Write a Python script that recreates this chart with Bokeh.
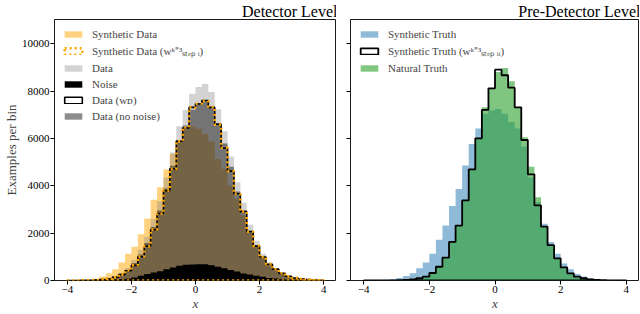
from bokeh.plotting import figure
from bokeh.layouts import row
from bokeh.models import Legend, LegendItem, FixedTicker, Range1d
from bokeh.embed import file_html
from bokeh.resources import INLINE

# ---------------- data ----------------
bin_lo = [round(-4.0 + 0.2 * i, 1) for i in range(40)]
bin_hi = [round(-3.8 + 0.2 * i, 1) for i in range(40)]

synthetic_data = [5, 10, 20, 40, 75, 165, 302, 480, 758, 1130, 1420, 1958, 2620, 3408, 3933,
                  4690, 5350, 5900, 6376, 6513, 6403, 6182, 5864, 5134, 4720, 4000, 3450, 2750,
                  2050, 1450, 1000, 700, 480, 310, 190, 110, 65, 35, 18, 8]
synthetic_weighted = [1, 2, 5, 10, 18, 36, 68, 140, 250, 420, 650, 1010, 1440, 2150, 2820,
                      3800, 4710, 5880, 6460, 7300, 7460, 7580, 7320, 6580, 5600, 4610, 3650,
                      2910, 2060, 1460, 990, 690, 475, 305, 175, 110, 62, 34, 19, 10]
data_full = [3, 6, 12, 22, 40, 70, 120, 200, 330, 530, 870, 1300, 1850, 2600, 3350, 4350,
             5400, 6510, 7200, 7890, 8170, 8300, 7960, 7230, 6300, 5240, 4145, 3280, 2350,
             1680, 1130, 760, 520, 330, 200, 122, 70, 40, 20, 10]
noise = [2, 3, 5, 8, 12, 18, 25, 40, 60, 75, 130, 200, 270, 340, 390, 470, 550, 620, 660, 680,
         690, 690, 640, 580, 520, 440, 385, 300, 250, 200, 160, 110, 80, 55, 35, 22, 14, 8, 5, 3]
data_weighted = [1, 2, 5, 9, 18, 35, 66, 137, 248, 414, 640, 1000, 1450, 2140, 2830, 3790,
                 4720, 5890, 6440, 7310, 7450, 7600, 7310, 6600, 5590, 4620, 3660, 2900, 2070,
                 1450, 994, 687, 480, 302, 178, 108, 60, 35, 20, 10]
data_no_noise = [1, 3, 7, 14, 28, 52, 95, 160, 270, 455, 740, 1100, 1580, 2260, 2960, 3880,
                 4850, 5890, 6540, 7210, 7480, 7610, 7320, 6650, 5780, 4800, 3760, 2980, 2100,
                 1480, 970, 650, 440, 275, 165, 100, 56, 32, 15, 7]

synthetic_truth = [3, 6, 12, 30, 60, 108, 192, 302, 522, 758, 1130, 1724, 2319, 3147, 3863,
                   4857, 5768, 6417, 7039, 7176, 7246, 7039, 6694, 6417, 5657, 4348, 3300, 2400,
                   1627, 1130, 716, 480, 274, 164, 82, 40, 20, 10, 5, 2]
synthetic_truth_weighted = [0, 1, 2, 3, 6, 12, 25, 50, 96, 165, 316, 580, 966, 1627, 2319,
                            3380, 4690, 6003, 7204, 8115, 8903, 8667, 8141, 7313, 5933, 4484,
                            3172, 2278, 1491, 937, 551, 302, 165, 96, 50, 25, 12, 6, 3, 1]
natural_truth = [0, 1, 2, 3, 6, 12, 25, 50, 96, 165, 316, 580, 966, 1627, 2319, 3380, 4690,
                 6003, 7313, 8115, 8800, 8970, 8418, 7313, 6045, 4802, 3520, 2300, 1500, 940,
                 560, 310, 170, 96, 50, 25, 12, 6, 3, 1]

x_ticks = [-4, -2, 0, 2, 4]
y_ticks = [0, 2000, 4000, 6000, 8000, 10000]
X_MIN, X_MAX, Y_MAX = -4.4, 4.4, 11020

SERIF = "Liberation Serif"


def step_outline(values):
    xs, ys = [bin_lo[0]], [0]
    for lo, hi, v in zip(bin_lo, bin_hi, values):
        xs += [lo, hi]
        ys += [v, v]
    xs.append(bin_hi[-1])
    ys.append(0)
    return xs, ys


def make_fig(title, show_ylabels, border_left, frame_w, border_right):
    p = figure(frame_width=frame_w, frame_height=261, output_backend="svg",
               toolbar_location=None, x_range=Range1d(X_MIN, X_MAX),
               y_range=Range1d(0, Y_MAX), min_border_left=border_left,
               min_border_right=border_right, min_border_top=18, min_border_bottom=0)
    p.title.text = title
    p.title.align = "right"
    p.title.text_font = SERIF
    p.title.text_font_size = "16px"
    p.title.text_font_style = "normal"
    p.title.text_color = "black"
    p.title.standoff = 0
    p.title.offset = -1
    p.grid.visible = False
    p.outline_line_color = "black"
    p.outline_line_width = 0.9
    for ax in (p.xaxis, p.yaxis):
        ax.axis_line_color = None
        ax.major_tick_out = 4
        ax.major_tick_in = 0
        ax.minor_tick_line_color = None
        ax.major_tick_line_color = "black"
        ax.major_label_text_font = SERIF
        ax.major_label_text_font_size = "11px"
        ax.major_label_text_color = "black"
        ax.major_label_standoff = 1
    p.xaxis.ticker = FixedTicker(ticks=x_ticks)
    p.xaxis.major_label_overrides = {-4: "\u22124", -2: "\u22122", 0: "0", 2: "2", 4: "4"}
    p.xaxis.axis_label = "x"
    p.xaxis.axis_label_text_font = SERIF
    p.xaxis.axis_label_text_font_size = "13px"
    p.xaxis.axis_label_text_font_style = "italic"
    p.xaxis.axis_label_standoff = 0
    p.yaxis.ticker = FixedTicker(ticks=y_ticks)
    if show_ylabels:
        p.yaxis.axis_label = "Examples per bin"
        p.yaxis.axis_label_text_font = SERIF
        p.yaxis.axis_label_text_font_size = "13px"
        p.yaxis.axis_label_text_font_style = "normal"
        p.yaxis.axis_label_standoff = 0
    else:
        p.yaxis.major_label_overrides = {t: "" for t in y_ticks}
        p.yaxis.major_label_standoff = 0
    return p


def style_legend(p, items):
    lg = Legend(items=items, location="top_left")
    lg.label_text_font = SERIF
    lg.label_text_font_size = "11px"
    lg.glyph_width = 22
    lg.glyph_height = 8
    lg.label_standoff = 8
    lg.label_height = 13
    lg.spacing = 3
    lg.padding = 5
    lg.margin = 3
    lg.background_fill_alpha = 0
    lg.border_line_alpha = 0
    p.add_layout(lg)


# ---------------- left panel: detector level ----------------
p1 = make_fig("Detector Level", True, 54, 282, 0)

xs, ys = step_outline(synthetic_data)
r_syn = p1.patch(xs, ys, fill_color="#FFA500", fill_alpha=0.5, line_color=None)
xs, ys = step_outline(data_full)
r_data = p1.patch(xs, ys, fill_color="#808080", fill_alpha=0.35, line_color=None)
xs, ys = step_outline(noise)
r_noise = p1.patch(xs, ys, fill_color="black", fill_alpha=1.0, line_color=None)
xs, ys = step_outline(data_no_noise)
r_nonoise = p1.patch(xs, ys, fill_color="black", fill_alpha=0.45, line_color=None)
xs, ys = step_outline(data_weighted)
r_dw = p1.patch(xs, ys, fill_color=None, fill_alpha=0, line_color="black", line_width=1.6)
xs, ys = step_outline(synthetic_weighted)
r_sw = p1.patch(xs, ys, fill_color=None, fill_alpha=0, line_color="#FFA500", line_width=2.6,
                line_dash="2 3")

style_legend(p1, [
    LegendItem(label="Synthetic Data", renderers=[r_syn]),
    LegendItem(label="Synthetic Data (w\u1d4f\u207c\u00b3\u209b\u209c\u2091\u209a \u1d62)", renderers=[r_sw]),
    LegendItem(label="Data", renderers=[r_data]),
    LegendItem(label="Noise", renderers=[r_noise]),
    LegendItem(label="Data (w\u1d05)", renderers=[r_dw]),
    LegendItem(label="Data (no noise)", renderers=[r_nonoise]),
])

# ---------------- right panel: pre-detector level ----------------
p2 = make_fig("Pre-Detector Level", False, 14, 289, 0)

xs, ys = step_outline(synthetic_truth)
r_st = p2.patch(xs, ys, fill_color="#1f77b4", fill_alpha=0.5, line_color=None)
xs, ys = step_outline(natural_truth)
r_nt = p2.patch(xs, ys, fill_color="#2ca02c", fill_alpha=0.6, line_color=None)
xs, ys = step_outline(synthetic_truth_weighted)
r_stw = p2.patch(xs, ys, fill_color=None, fill_alpha=0, line_color="black", line_width=1.8)

style_legend(p2, [
    LegendItem(label="Synthetic Truth", renderers=[r_st]),
    LegendItem(label="Synthetic Truth (w\u1d4f\u207c\u00b3\u209b\u209c\u2091\u209a \u1d62\u1d62)", renderers=[r_stw]),
    LegendItem(label="Natural Truth", renderers=[r_nt]),
])

layout = row(p1, p2)
layout.styles = {"position": "absolute", "left": "0px", "top": "0px"}

open("out.html", "w").write(file_html(layout, INLINE))
